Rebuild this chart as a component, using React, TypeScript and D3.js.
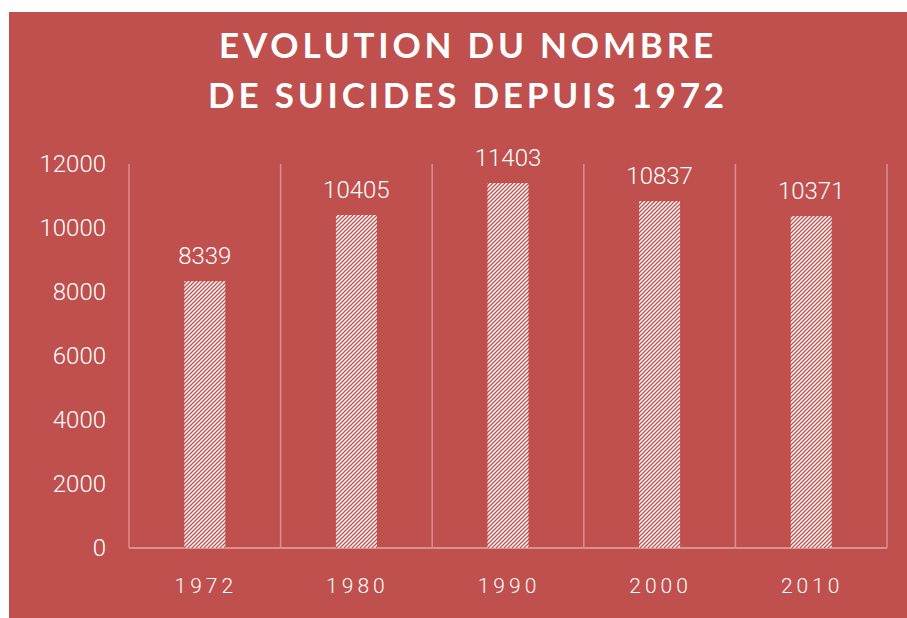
import React from "react";
import * as d3 from "d3";

const categories: string[] = ["1972", "1980", "1990", "2000", "2010"];
const values: number[] = [8339, 10405, 11403, 10837, 10371];
const yTicks: number[] = [0, 2000, 4000, 6000, 8000, 10000, 12000];
const titleLines: string[] = ["EVOLUTION DU NOMBRE", "DE SUICIDES DEPUIS 1972"];

const W = 907;
const H = 618;
const BG = "#C0504D";
const GRID = "#D9908E";

export default function App() {
  const left = 129;
  const right = 887;
  const top = 164;
  const bottom = 548;

  const x = d3.scaleBand<string>().domain(categories).range([left, right]).paddingInner(0).paddingOuter(0);
  const y = d3.scaleLinear().domain([0, 12000]).range([bottom, top]);
  const barW = x.bandwidth() * 0.27;
  const boundaries = categories.map((c) => x(c) as number).concat([right]);

  return (
    <div style={{ position: "absolute", left: 0, top: 0, width: W, height: H, background: "#fff" }}>
      <svg width={W} height={H} style={{ display: "block" }}>
        <defs>
          <pattern id="hatch" width={4} height={4} patternUnits="userSpaceOnUse">
            <rect width={4} height={4} fill="#fff" />
            <path d="M-1,1 L1,-1 M0,4 L4,0 M3,5 L5,3" stroke={BG} strokeWidth={1.35} />
          </pattern>
        </defs>
        <rect x={9} y={12} width={W - 9} height={H - 12} fill={BG} />
        <g fontFamily="'Century Gothic', Lato, 'Open Sans', sans-serif" fontWeight={700} fill="#fff" fontSize={35} textAnchor="middle" letterSpacing={3.8}>
          {titleLines.map((t, i) => (
            <text key={t} x={468} y={58 + i * 50}>{t}</text>
          ))}
        </g>
        {boundaries.map((b, i) => (
          <line key={i} x1={b} x2={b} y1={top} y2={bottom} stroke={GRID} strokeWidth={1.5} />
        ))}
        <line x1={left} x2={right} y1={bottom} y2={bottom} stroke={GRID} strokeWidth={2.2} />
        {categories.map((c, i) => {
          const cx = (x(c) as number) + x.bandwidth() / 2;
          return (
            <g key={c}>
              <rect x={cx - barW / 2} y={y(values[i])} width={barW} height={bottom - y(values[i])} fill="url(#hatch)" />
              <text x={cx} y={y(values[i]) - 17} textAnchor="middle" fill="#fff" fontFamily="Roboto, sans-serif" fontWeight={300} fontSize={24}>{values[i]}</text>
              <text x={cx + 1} y={593} textAnchor="middle" fill="#fff" fontFamily="Roboto, sans-serif" fontWeight={300} fontSize={21} letterSpacing={4}>{c}</text>
            </g>
          );
        })}
        {yTicks.map((t) => (
          <text key={t} x={106} y={y(t)} dy="0.35em" textAnchor="end" fill="#fff" fontFamily="Roboto, sans-serif" fontWeight={300} fontSize={24}>{t}</text>
        ))}
      </svg>
    </div>
  );
}
